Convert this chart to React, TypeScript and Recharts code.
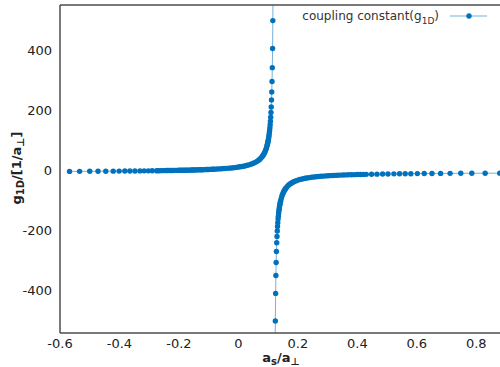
import { LineChart, Line, XAxis, YAxis, ReferenceLine } from 'recharts'

// ── data ────────────────────────────────────────────────────────────────────
// left branch (a_s/a⊥ below the resonance)
const leftX = [
  -0.568, -0.534, -0.5, -0.472, -0.446, -0.421, -0.401, -0.382, -0.365, -0.348,
  -0.331, -0.317, -0.303, -0.29, -0.275, -0.268, -0.261, -0.254, -0.248, -0.242,
  -0.237, -0.231, -0.226, -0.22, -0.215, -0.21, -0.205, -0.2, -0.195, -0.19,
  -0.185, -0.18, -0.176, -0.171, -0.167, -0.162, -0.158, -0.153, -0.149, -0.144,
  -0.14, -0.135, -0.131, -0.126, -0.122, -0.117, -0.113, -0.108, -0.104, -0.1,
  -0.096, -0.092, -0.088, -0.084, -0.08, -0.072, -0.064, -0.056, -0.048, -0.04,
  -0.032, -0.024, -0.016, -0.008, 0, 0.006, 0.012, 0.018, 0.024, 0.03,
  0.036, 0.042, 0.048, 0.054, 0.06, 0.064, 0.068, 0.072, 0.076, 0.08,
  0.082, 0.084, 0.086, 0.088, 0.09, 0.092, 0.094, 0.096, 0.0969, 0.0978,
  0.0987, 0.0996, 0.1005, 0.1014, 0.1023, 0.1032, 0.1041, 0.105, 0.1059, 0.1068,
  0.1077, 0.1086, 0.1095, 0.1104, 0.1113, 0.1122, 0.1131, 0.114, 0.1149, 0.1158,
  0.1167,
]
const leftG = [
  -3.0, -2.8, -2.6, -2.5, -2.3, -2.1, -2.0, -1.8, -1.7, -1.5,
  -1.4, -1.2, -1.1, -0.9, -0.7, -0.6, -0.5, -0.4, -0.3, -0.2,
  -0.1, 0.0, 0.1, 0.2, 0.3, 0.4, 0.5, 0.6, 0.7, 0.8,
  0.9, 1.0, 1.1, 1.2, 1.3, 1.4, 1.5, 1.65, 1.8, 1.95,
  2.1, 2.2, 2.3, 2.5, 2.7, 2.85, 3.0, 3.2, 3.4, 3.55,
  3.7, 3.9, 4.1, 4.3, 4.5, 4.9, 5.4, 5.9, 6.5, 7.1,
  7.8, 8.5, 9.4, 10.4, 11.5, 12.4, 13.4, 14.5, 15.8, 17.3,
  18.9, 20.9, 23.1, 25.7, 28.9, 31.4, 34.3, 37.6, 41.6, 46.4,
  49.1, 52.2, 55.6, 59.5, 63.8, 68.8, 74.6, 81.3, 84.7, 88.4,
  92.4, 96.7, 101.4, 106.6, 112.4, 118.7, 125.8, 133.7, 142.6, 152.7,
  164.3, 177.8, 193.5, 212, 235, 262, 297, 343, 407, 500,
  629,
]

// right branch (above the resonance)
const rightX = [
  0.1233, 0.1242, 0.1252, 0.1261, 0.127, 0.1279, 0.1289, 0.1298, 0.1307, 0.1316,
  0.1325, 0.1334, 0.1343, 0.1352, 0.1361, 0.137, 0.1379, 0.1388, 0.1397, 0.1406,
  0.1415, 0.1424, 0.1444, 0.1464, 0.1484, 0.1504, 0.1524, 0.1544, 0.1564, 0.1584,
  0.1604, 0.1644, 0.1684, 0.1724, 0.1764, 0.1804, 0.1844, 0.1884, 0.1944, 0.2004,
  0.2064, 0.2124, 0.2184, 0.2244, 0.2304, 0.238, 0.246, 0.254, 0.262, 0.27,
  0.278, 0.286, 0.294, 0.302, 0.31, 0.318, 0.326, 0.334, 0.343, 0.352,
  0.361, 0.37, 0.38, 0.39, 0.4, 0.41, 0.42, 0.43, 0.448, 0.466,
  0.485, 0.503, 0.523, 0.542, 0.561, 0.58, 0.602, 0.625, 0.651, 0.68,
  0.712, 0.748, 0.785, 0.83, 0.879,
]
const rightG = [
  -641, -502, -410, -350, -307, -270, -241, -220, -202, -187,
  -174, -162, -153, -144, -136, -129, -123, -117, -112, -108,
  -103, -100, -92, -85, -80, -75, -71, -67, -64, -61,
  -58, -53, -49, -46, -43, -41, -38.5, -36.6, -34, -32,
  -30, -28.7, -27.3, -26.1, -25, -23.8, -22.6, -21.6, -20.8, -20,
  -19.3, -18.6, -18, -17.5, -17, -16.6, -16.2, -15.8, -15.4, -15,
  -14.7, -14.4, -14.1, -13.8, -13.5, -13.2, -13.0, -12.8, -12.4, -12.1,
  -11.7, -11.5, -11.2, -11.0, -10.8, -10.6, -10.3, -10.1, -9.9, -9.7,
  -9.5, -9.3, -9.2, -9.0, -8.8,
]

const xTicks = [-0.6, -0.4, -0.2, 0, 0.2, 0.4, 0.6, 0.8]
const yTicks = [-400, -200, 0, 200, 400]

const leftData = leftX.map((x, i) => ({ x, g: leftG[i] }))
const rightData = rightX.map((x, i) => ({ x, g: rightG[i] }))

const BLUE = '#0072bd'
const AXIS = '#4d4d4d'
const FONT = '"DejaVu Sans", sans-serif'
const tickStyle = { fontSize: 13, fill: '#222', fontFamily: FONT }
const dotStyle = { r: 2.7, fill: BLUE, stroke: 'none', strokeWidth: 0, fillOpacity: 1 }

export default function App() {
  return (
    <div style={{ position: 'absolute', left: 0, top: 0, width: 500, height: 367, overflow: 'hidden', background: '#fff' }}>
      <LineChart width={506} height={367} margin={{ top: 5, right: 0, left: 8, bottom: 0 }}>
        <XAxis
          type="number" dataKey="x" domain={[-0.6, 0.9]} allowDataOverflow
          ticks={xTicks} tickLine={false} tickSize={6} tickMargin={0} height={34}
          axisLine={{ stroke: AXIS, strokeWidth: 1.5 }} tick={tickStyle}
        />
        <YAxis
          type="number" dataKey="g" domain={[-542, 552]} allowDataOverflow
          ticks={yTicks} tickLine={false} width={52}
          axisLine={{ stroke: AXIS, strokeWidth: 1.5 }} tick={tickStyle}
        />
        <ReferenceLine y={552} stroke={AXIS} strokeWidth={1.5} ifOverflow="visible" />
        <Line
          data={leftData} dataKey="g" type="linear" stroke={BLUE} strokeOpacity={0.55} strokeWidth={1}
          dot={dotStyle} activeDot={false} isAnimationActive={false}
        />
        <Line
          data={rightData} dataKey="g" type="linear" stroke={BLUE} strokeOpacity={0.55} strokeWidth={1}
          dot={dotStyle} activeDot={false} isAnimationActive={false}
        />
      </LineChart>

      {/* axis titles and legend */}
      <svg width={500} height={367} style={{ position: 'absolute', left: 0, top: 0, pointerEvents: 'none' }}>
        <text x={281} y={362} textAnchor="middle" fontFamily={FONT} fontSize={13} fontWeight="bold" fill="#222">
          a<tspan fontSize={10} dy={3}>s</tspan><tspan dy={-3}>/a</tspan><tspan fontSize={10} dy={3}>⊥</tspan>
        </text>
        <text transform="translate(21,168) rotate(-90)" textAnchor="middle" fontFamily={FONT} fontSize={13} fontWeight="bold" fill="#222">
          g<tspan fontSize={10} dy={3}>1D</tspan><tspan dy={-3}>/[1/a</tspan><tspan fontSize={10} dy={3}>⊥</tspan><tspan dy={-3}>]</tspan>
        </text>
        <text x={439} y={20} textAnchor="end" fontFamily={FONT} fontSize={12} fill="#333">
          coupling constant(g<tspan fontSize={9} dy={4}>1D</tspan><tspan dy={-4}>)</tspan>
        </text>
        <line x1={450} y1={16} x2={487} y2={16} stroke={BLUE} strokeOpacity={0.55} strokeWidth={1} />
        <circle cx={469} cy={16} r={2.7} fill={BLUE} />
      </svg>
    </div>
  )
}
